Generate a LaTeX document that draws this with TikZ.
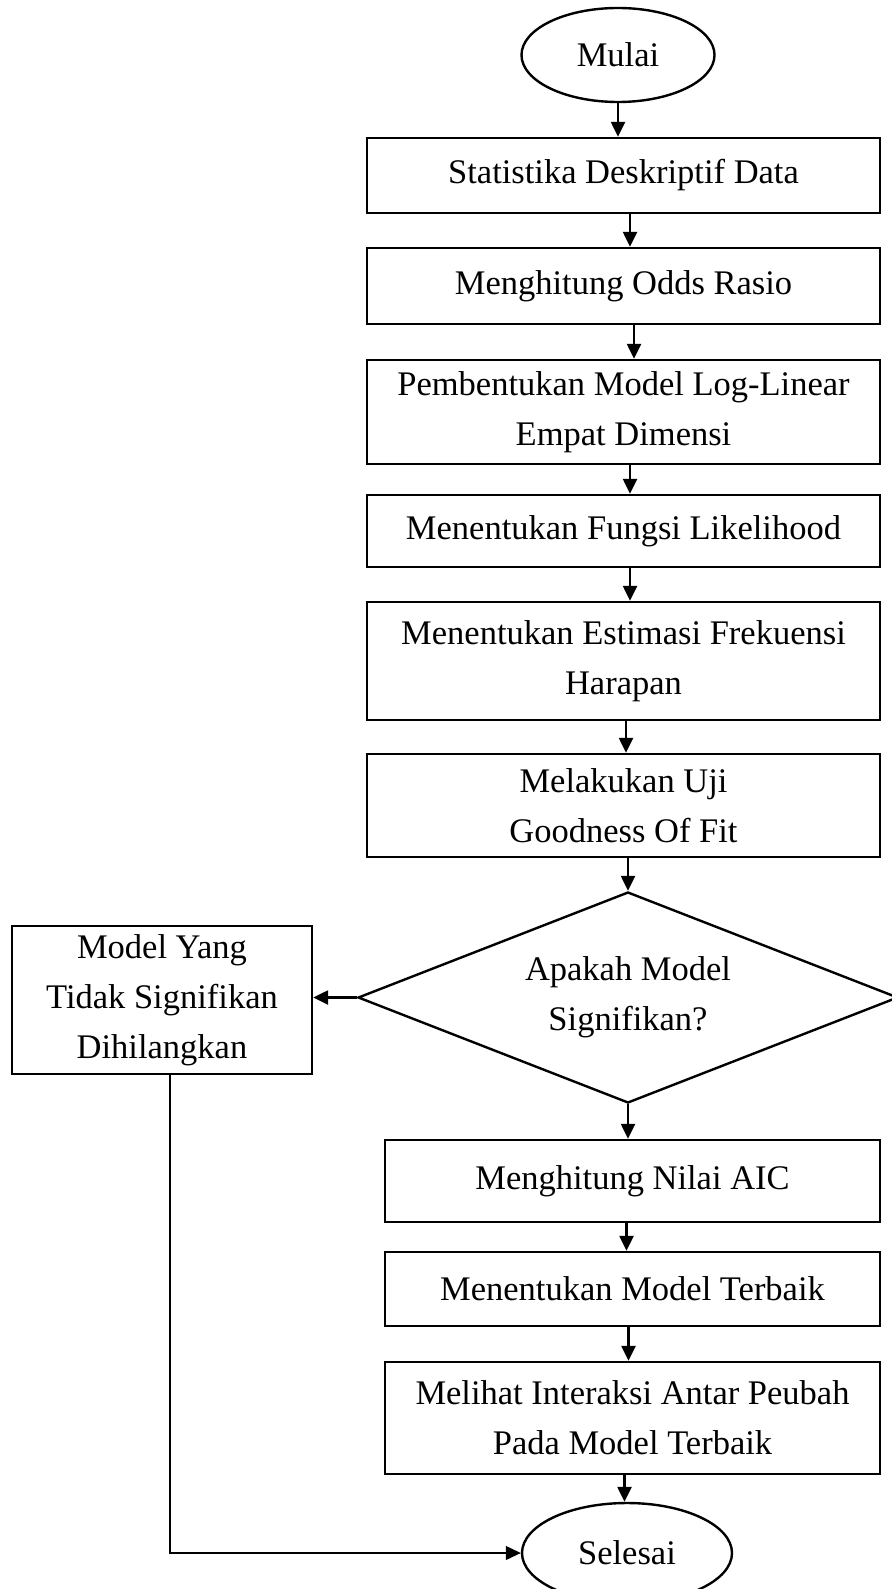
\documentclass[tikz,border=0pt]{standalone}
\usepackage{fontspec}
\setmainfont{Liberation Serif}
\usetikzlibrary{shapes.geometric,arrows.meta,calc}
\begin{document}
\begin{tikzpicture}[x=1pt,y=-1pt,
  every node/.style={font=\fontsize{34.5}{50}\selectfont, align=center, inner sep=0pt},
  procbox/.style={draw, line width=2.4pt, rectangle, minimum width=513, anchor=center},
  termnode/.style={draw, line width=2.4pt, ellipse},
  decnode/.style={draw, line width=2.4pt, diamond, aspect=2.56, minimum width=540, minimum height=211},
  arr/.style={line width=2.4pt, -{Triangle[length=15pt,width=14pt]}},
  thinarr/.style={line width=1.2pt, -{Triangle[length=15pt,width=14pt]}}]
\useasboundingbox (0,0) rectangle (891,1589);

\node[termnode, minimum width=193, minimum height=94] (start) at (618,55) {Mulai};
\node[procbox, minimum height=75] (b1) at (623.5,175.5) {Statistika Deskriptif Data};
\node[procbox, minimum height=76] (b2) at (623.5,286) {Menghitung Odds Rasio};
\node[procbox, minimum height=104] (b3) at (623.5,412) {Pembentukan Model Log-Linear\\Empat Dimensi};
\node[procbox, minimum height=72] (b4) at (623.5,531) {Menentukan Fungsi Likelihood};
\node[procbox, minimum height=118] (b5) at (623.5,661) {Menentukan Estimasi Frekuensi\\Harapan};
\node[procbox, minimum height=103] (b6) at (623.5,805.5) {Melakukan Uji\\Goodness Of Fit};
\node[decnode] (dec) at (628,997.5) {Apakah Model\\Signifikan?};
\node[procbox, minimum width=300, minimum height=148] (left) at (162,1000) {Model Yang\\Tidak Signifikan\\Dihilangkan};
\node[procbox, minimum width=495, minimum height=82] (b7) at (632.5,1181) {Menghitung Nilai AIC};
\node[procbox, minimum width=495, minimum height=74] (b8) at (632.5,1289) {Menentukan Model Terbaik};
\node[procbox, minimum width=495, minimum height=112] (b9) at (632.5,1418) {Melihat Interaksi Antar Peubah\\Pada Model Terbaik};
\node[termnode, minimum width=210, minimum height=100] (end) at (627,1553) {Selesai};

\draw[arr] (start.south) -- (start.south |- b1.north);
\draw[arr] ([xshift=6.5]b1.south) -- ([xshift=6.5]b2.north);
\draw[arr] ([xshift=10.5]b2.south) -- ([xshift=10.5]b3.north);
\draw[arr] ([xshift=6.5]b3.south) -- ([xshift=6.5]b4.north);
\draw[arr] ([xshift=6.5]b4.south) -- ([xshift=6.5]b5.north);
\draw[arr] ([xshift=2.5]b5.south) -- ([xshift=2.5]b6.north);
\draw[arr] (b6.south -| dec.north) -- (dec.north);
\draw[arr] (dec.west) -- (dec.west -| left.east);
\draw[arr] (dec.south) -- (dec.south |- b7.north);
\draw[arr] ([xshift=-6]b7.south) -- ([xshift=-6]b8.north);
\draw[arr] ([xshift=-4]b8.south) -- ([xshift=-4]b9.north);
\draw[arr] ([xshift=-8]b9.south) -- ([xshift=-8]b9.south |- end.north);
\draw[thinarr] ([xshift=8]left.south) |- (end.west);
\end{tikzpicture}
\end{document}
